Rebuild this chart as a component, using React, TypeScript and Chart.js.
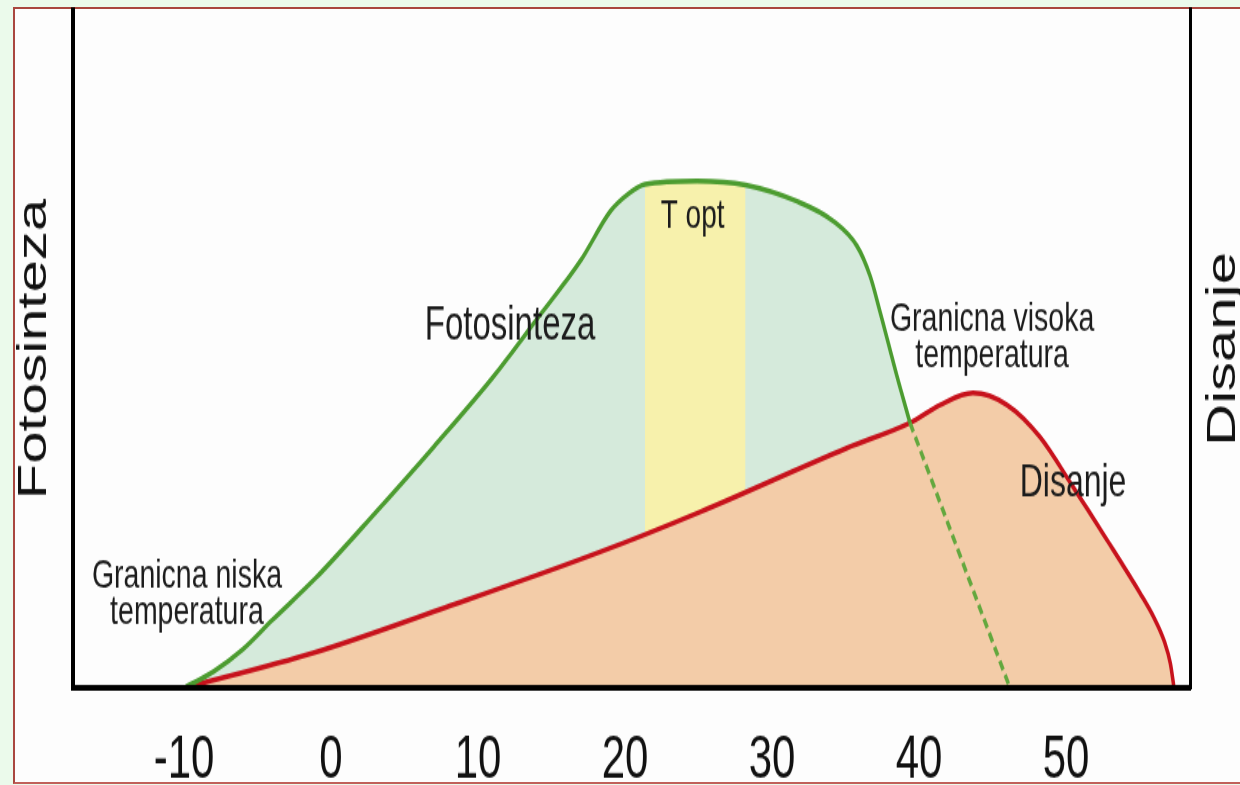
import React, { useEffect, useRef } from "react";
import { Chart, registerables } from "chart.js";

Chart.register(...registerables);

// ---- data ----
const tempTicks = [-10, 0, 10, 20, 30, 40, 50];

const photoT = [-10, -8, -6, -4, -1, 3, 7, 11, 14, 17, 19, 20.3, 21.36, 24.9, 28.2, 31.7, 34.15, 35.78, 36.67, 37.35, 38.5, 39.39];
const photoV = [0, 2.4, 5.7, 10.0, 16.3, 25.8, 35.6, 45.8, 54.4, 63.1, 70.3, 73.0, 74.3, 74.8, 74.2, 71.8, 68.9, 65.2, 60.8, 55.5, 46.0, 39.1];

const toptT = [21.36, 24.9, 28.2];
const toptV = [74.3, 74.8, 74.2];

const respT = [-10, -1.22, 7.89, 18.3, 25.1, 35.1, 39.39, 41.43, 43.67, 45.99, 48.23, 50.48, 52.79, 55.03, 56.0, 56.7, 57.1, 57.35];
const respV = [0, 5.16, 11.95, 20.06, 25.96, 35.4, 39.1, 41.74, 43.51, 41.74, 37.02, 29.65, 21.83, 14.01, 10.3, 6.8, 3.6, 0];

const dashT = [39.39, 46.19];
const dashV = [39.1, 0];

const noteTexts = ["Fotosinteza", "T opt", "Granicna visoka", "temperatura", "Granicna niska", "temperatura", "Disanje"];
const noteT = [12.18, 24.6, 44.97, 44.97, -9.8, -9.8, 50.48];
const noteV = [53.3, 69.6, 54.3, 49.0, 16.4, 11.2, 30.2];
const noteSizes = [33, 28, 28.5, 28.5, 28.5, 28.5, 32];

const leftTitle = "Fotosinteza";
const rightTitle = "Disanje";

// ---- layout ----
const W = 1240;
const H = 541;
const S = 785 / H;
const FONT = '"Liberation Sans", Arial, sans-serif';

const pts = (t: number[], v: number[]) => t.map((x, i) => ({ x, y: v[i] }));

const notesPlugin = {
  id: "notes",
  afterDatasetsDraw(chart: any) {
    const { ctx, scales } = chart;
    const xs = scales.x;
    const ys = scales.y;
    ctx.save();
    ctx.fillStyle = "#1c1c1c";
    ctx.textAlign = "center";
    ctx.textBaseline = "middle";
    noteTexts.forEach((txt, i) => {
      ctx.font = `${noteSizes[i]}px ${FONT}`;
      ctx.fillText(txt, xs.getPixelForValue(noteT[i]), ys.getPixelForValue(noteV[i]));
    });
    ctx.restore();
  },
  afterDraw(chart: any) {
    const { ctx, chartArea } = chart;
    ctx.save();
    ctx.fillStyle = "#111";
    ctx.font = `40px ${FONT}`;
    ctx.textAlign = "center";
    ctx.textBaseline = "middle";
    ctx.translate(1224, (chartArea.top + chartArea.bottom) / 2);
    ctx.rotate(-Math.PI / 2);
    ctx.fillText(rightTitle, 0, 0);
    ctx.restore();
  },
};

export default function App() {
  const ref = useRef<HTMLCanvasElement>(null);

  useEffect(() => {
    document.body.style.margin = "0";
    const red = pts(respT, respV);
    const chart = new Chart(ref.current as HTMLCanvasElement, {
      type: "line",
      data: {
        datasets: [
          {
            data: pts(dashT, dashV),
            borderColor: "#63a83e",
            borderWidth: 3.5,
            borderDash: [7, 4],
            pointRadius: 0,
            fill: false,
          },
          {
            data: pts(photoT, photoV),
            borderColor: "#4c9c30",
            borderWidth: 3.5,
            pointRadius: 0,
            cubicInterpolationMode: "monotone",
            fill: false,
          },
          {
            data: red,
            borderColor: "#c7121c",
            borderWidth: 3.5,
            pointRadius: 0,
            cubicInterpolationMode: "monotone",
            fill: false,
          },
          {
            data: pts(toptT, toptV),
            borderWidth: 0,
            borderColor: "rgba(0,0,0,0)",
            backgroundColor: "#f7f1ac",
            pointRadius: 0,
            cubicInterpolationMode: "monotone",
            fill: 5,
          },
          {
            data: pts(photoT, photoV),
            borderWidth: 0,
            borderColor: "rgba(0,0,0,0)",
            backgroundColor: "#d5eadb",
            pointRadius: 0,
            cubicInterpolationMode: "monotone",
            fill: 5,
          },
          {
            data: red,
            borderWidth: 0,
            borderColor: "rgba(0,0,0,0)",
            backgroundColor: "#f3cca8",
            pointRadius: 0,
            cubicInterpolationMode: "monotone",
            fill: "origin",
          },
        ],
      } as any,
      options: {
        animation: false,
        responsive: false,
        devicePixelRatio: 1,
        events: [],
        layout: { padding: { top: 6.9, left: 0, right: 0, bottom: 0 } },
        plugins: { legend: { display: false }, tooltip: { enabled: false } },
        scales: {
          x: {
            type: "linear",
            min: (73 - 331) / 14.7,
            max: (1190 - 331) / 14.7,
            afterBuildTicks: (scale: any) => {
              scale.ticks = tempTicks.map((v) => ({ value: v }));
            },
            afterFit: (scale: any) => {
              scale.height = H - 474.1;
            },
            grid: { display: false, drawTicks: false },
            border: { display: true, color: "#000", width: 4, z: 1 },
            ticks: {
              color: "#111",
              padding: 25,
              font: { size: 42, family: FONT },
              maxRotation: 0,
              autoSkip: false,
            },
          },
          y: {
            type: "linear",
            position: "left",
            min: 0,
            max: 100,
            afterFit: (scale: any) => {
              scale.width = 73;
            },
            grid: { display: false, drawTicks: false },
            border: { display: true, color: "#000", width: 4, z: 1 },
            ticks: { display: false },
            title: {
              display: true,
              text: leftTitle,
              color: "#111",
              font: { size: 40, family: FONT },
              padding: { top: 11, bottom: 0 },
            },
          },
          y2: {
            type: "linear",
            position: "right",
            min: 0,
            max: 100,
            afterFit: (scale: any) => {
              scale.width = 50;
            },
            grid: { display: false, drawTicks: false },
            border: { display: true, color: "#000", width: 3, z: 1 },
            ticks: { display: false },
          },
        },
      } as any,
      plugins: [notesPlugin],
    });
    return () => chart.destroy();
  }, []);

  return (
    <div
      style={{
        position: "fixed",
        left: 0,
        top: 0,
        width: W,
        height: 785,
        background: "#ebfaeb",
        overflow: "hidden",
      }}
    >
      <div
        style={{
          position: "absolute",
          left: 13,
          top: 7,
          width: 1260,
          height: 777,
          boxSizing: "border-box",
          borderTop: "2px solid #a9473f",
          borderLeft: "2px solid #a9473f",
          borderBottom: "2px solid #c0605a",
          background: "#fdfdfd",
        }}
      />
      <div
        style={{
          position: "absolute",
          left: 0,
          top: 0,
          width: W,
          height: H,
          transform: `scaleY(${S})`,
          transformOrigin: "0 0",
        }}
      >
        <canvas ref={ref} width={W} height={H} style={{ display: "block", width: W, height: H }} />
      </div>
    </div>
  );
}
